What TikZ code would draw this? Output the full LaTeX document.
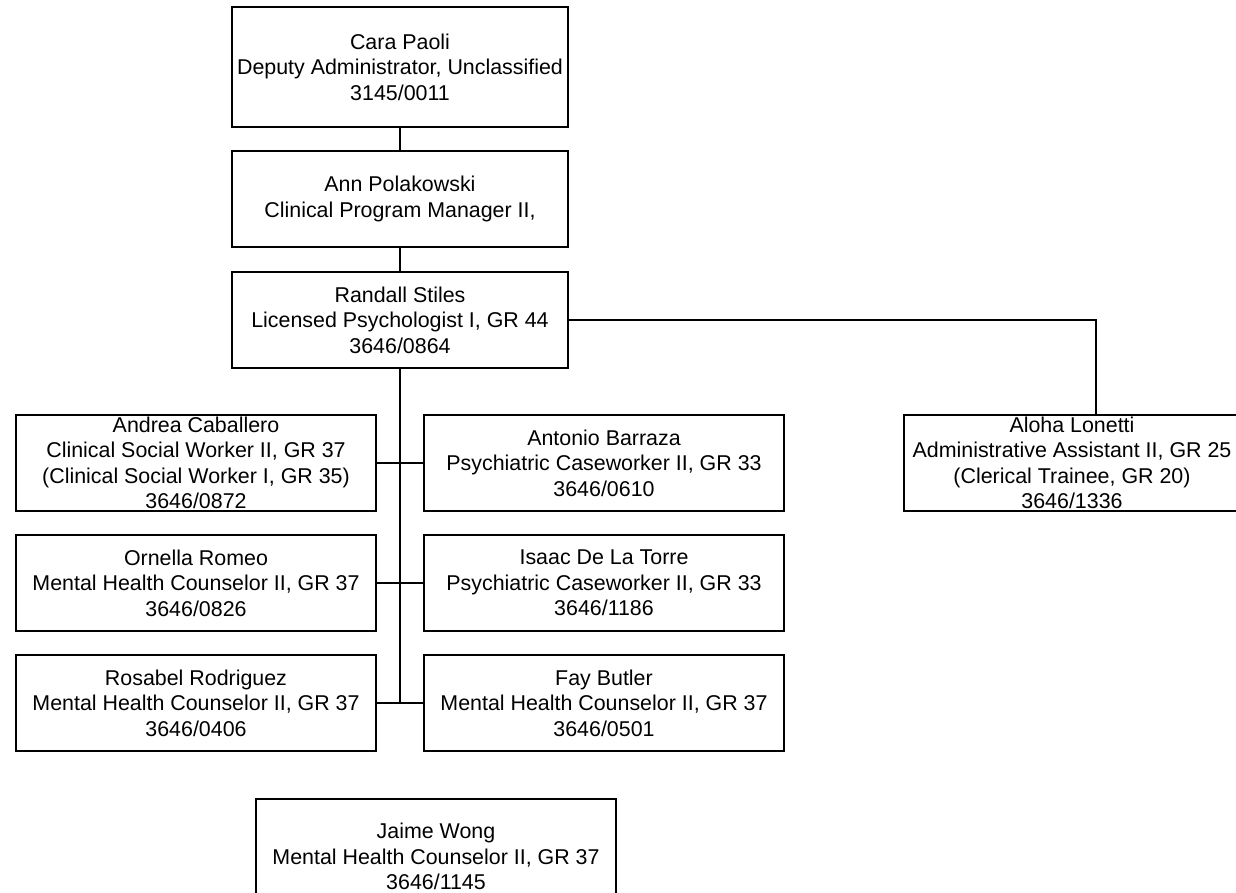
\documentclass[tikz,border=0pt]{standalone}
\usepackage{fontspec}
\setmainfont{Liberation Sans}
\begin{document}
\begin{tikzpicture}[x=1pt,y=-1pt,
  lw/.style={line width=1.8pt, draw=black},
  box/.style={lw, rectangle, inner sep=0pt},
  topbox/.style={box, minimum width=336pt, minimum height=120pt},
  midbox/.style={box, minimum width=336pt, minimum height=96pt},
  staffbox/.style={box, minimum width=360pt, minimum height=96pt},
  tallbox/.style={box, minimum width=360pt, minimum height=120pt},
  txt/.style={align=center, inner sep=0pt, font=\fontsize{21.4}{25.5}\selectfont}
]
\useasboundingbox (0,0) rectangle (1236,892);
\clip (0,0) rectangle (1236,892);

\node[topbox, label={[txt]center:{Cara Paoli\\Deputy Administrator, Unclassified\\3145/0011}}] (cara) at (400,67) {};
\node[midbox, label={[txt]center:{Ann Polakowski\\Clinical Program Manager II,}}] (ann) at (400,199) {};
\node[midbox, label={[txt]center:{Randall Stiles\\Licensed Psychologist I, GR 44\\3646/0864}}] (randall) at (400,320) {};

\node[staffbox, label={[txt]center:{Andrea Caballero\\Clinical Social Worker II, GR 37\\(Clinical Social Worker I, GR 35)\\3646/0872}}] (andrea) at (196,463) {};
\node[staffbox, label={[txt]center:{Ornella Romeo\\Mental Health Counselor II, GR 37\\3646/0826}}] (ornella) at (196,583) {};
\node[staffbox, label={[txt]center:{Rosabel Rodriguez\\Mental Health Counselor II, GR 37\\3646/0406}}] (rosabel) at (196,703) {};

\node[staffbox, label={[txt]center:{Antonio Barraza\\Psychiatric Caseworker II, GR 33\\3646/0610}}] (antonio) at (604,463) {};
\node[staffbox, label={[txt]center:{Isaac De La Torre\\Psychiatric Caseworker II, GR 33\\3646/1186}}] (isaac) at (604,583) {};
\node[staffbox, label={[txt]center:{Fay Butler\\Mental Health Counselor II, GR 37\\3646/0501}}] (fay) at (604,703) {};

\node[box, minimum width=336pt, minimum height=96pt, label={[txt]center:{Aloha Lonetti\\Administrative Assistant II, GR 25\\(Clerical Trainee, GR 20)\\3646/1336}}] (aloha) at (1072,463) {};

\node[tallbox, label={[txt, yshift=2.5pt]center:{Jaime Wong\\Mental Health Counselor II, GR 37\\3646/1145}}] (jaime) at (436,859) {};

\coordinate (spine) at (400,703);
\coordinate (alohatop) at (1096,415);

\draw[lw] (cara.south) -- (ann.north);
\draw[lw] (ann.south) -- (randall.north);
\draw[lw] (randall.south) -- (spine);
\draw[lw] (randall.east) -| (alohatop);
\draw[lw] (andrea.east) -- (antonio.west);
\draw[lw] (ornella.east) -- (isaac.west);
\draw[lw] (rosabel.east) -- (fay.west);
\end{tikzpicture}
\end{document}
